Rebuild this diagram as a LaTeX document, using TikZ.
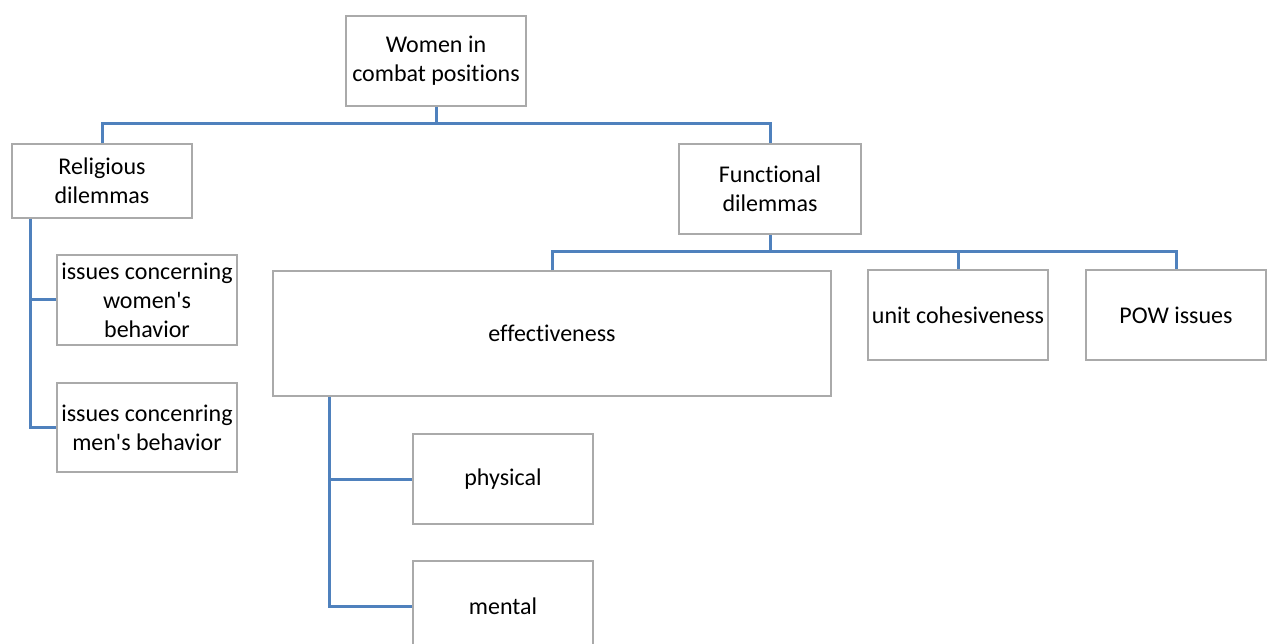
\documentclass[tikz,border=0pt]{standalone}
\usepackage{fontspec}
\setmainfont{Carlito}[Ligatures={NoCommon,TeXOff}]
\definecolor{boxgray}{RGB}{170,170,170}
\definecolor{linkblue}{RGB}{79,129,189}
\begin{document}
\begin{tikzpicture}[x=1pt,y=-1pt,
  box/.style={draw=boxgray,line width=1.8pt,fill=white,inner sep=0pt,align=center,
    font=\fontsize{24}{29}\selectfont,text=black},
  link/.style={draw=linkblue,line width=3pt}]
\useasboundingbox (0,0) rectangle (1267,644);
\clip (0,0) rectangle (1267,644);
\node[box,minimum width=180,minimum height=90] (root) at (436,61) {Women in\\combat positions};
\node[box,minimum width=180,minimum height=74] (rel) at (102,181) {Religious\\dilemmas};
\node[box,minimum width=182,minimum height=90] (fun) at (770,189) {Functional\\dilemmas};
\node[box,minimum width=180,minimum height=90] (wom) at (147,300) {issues concerning\\women's\\behavior};
\node[box,minimum width=180,minimum height=89] (men) at (147,427.5) {issues concenring\\men's behavior};
\node[box,minimum width=558,minimum height=125] (eff) at (552,333.5) {effectiveness};
\node[box,minimum width=180,minimum height=90] (unit) at (958,315) {unit cohesiveness};
\node[box,minimum width=180,minimum height=90] (pow) at (1176,315) {POW issues};
\node[box,minimum width=180,minimum height=90] (phy) at (503,479) {physical};
\node[box,minimum width=180,minimum height=90] (men2) at (503,606) {mental};
\coordinate (j1) at (436,124);
\coordinate (j2) at (770,252);
\draw[link] (root.south) -- (j1);
\draw[link] (rel.north) |- (j1) -| (fun.north);
\draw[link] (fun.south) -- (j2);
\draw[link] (eff.north) |- (j2) -| (pow.north);
\draw[link] (unit.north) |- (j2);
\draw[link] (rel.south west) ++(19,0) |- (wom.west);
\draw[link] (rel.south west) ++(19,0) |- (men.west);
\draw[link] (eff.south west) ++(57,0) |- (phy.west);
\draw[link] (eff.south west) ++(57,0) |- (men2.west);
\end{tikzpicture}
\end{document}
